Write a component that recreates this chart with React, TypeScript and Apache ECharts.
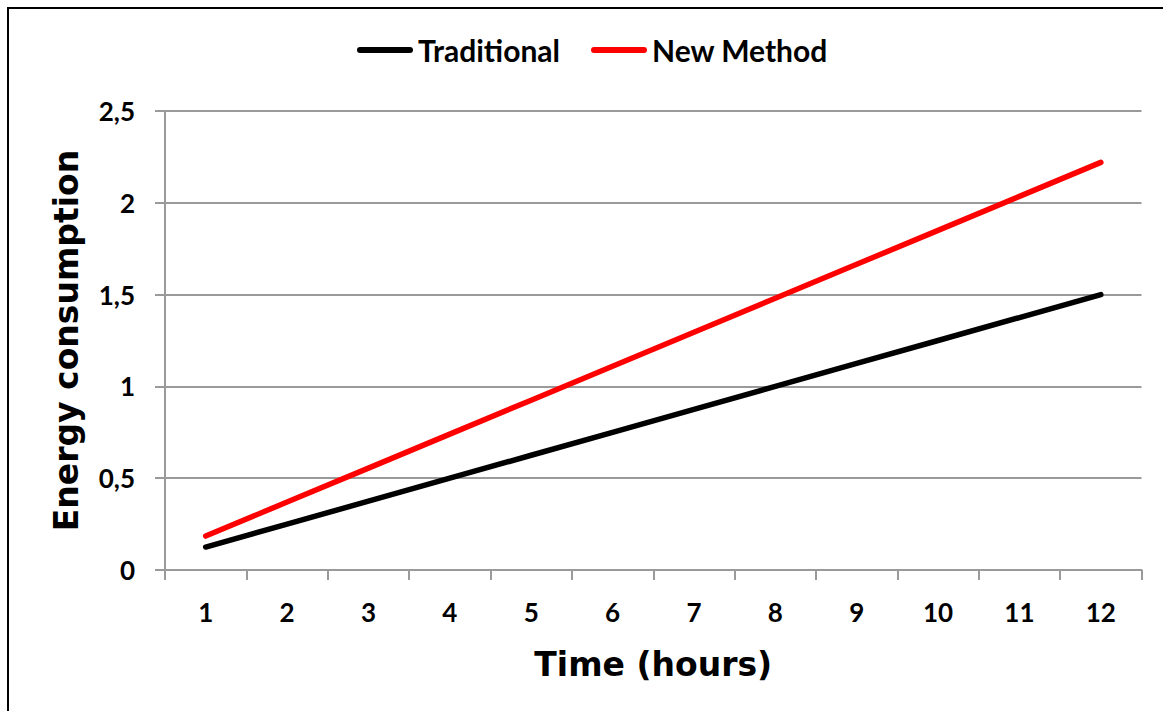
import React, { useEffect, useRef } from "react";
import * as echarts from "echarts";

const hours = ["1", "2", "3", "4", "5", "6", "7", "8", "9", "10", "11", "12"];
const traditional = [0.125, 0.25, 0.375, 0.5, 0.625, 0.75, 0.875, 1.0, 1.125, 1.25, 1.375, 1.5];
const newMethod = [0.185, 0.37, 0.555, 0.74, 0.925, 1.11, 1.295, 1.48, 1.665, 1.85, 2.035, 2.22];
const seriesNames = ["Traditional", "New Method"];
const seriesColors = ["#000000", "#ff0000"];

const pill = "path://M3,0 L53,0 A3,3 0 0 1 53,6 L3,6 A3,3 0 0 1 3,0 Z";

export default function App() {
  const ref = useRef<HTMLDivElement>(null);
  useEffect(() => {
    if (!ref.current) return;
    const chart = echarts.init(ref.current, null, { renderer: "svg" });
    const gridColor = "#9a9a9a";
    chart.setOption({
      animation: false,
      backgroundColor: "#ffffff",
      graphic: [
        {
          type: "rect",
          shape: { x: 8, y: 8, width: 1300, height: 900 },
          style: { fill: "none", stroke: "#000", lineWidth: 2 },
          silent: true,
        },
      ],
      legend: {
        left: 357,
        top: 35,
        padding: 0,
        itemWidth: 56,
        itemHeight: 6,
        itemGap: 31,
        icon: pill,
        textStyle: { fontFamily: "Lato", fontWeight: "bold", fontSize: 30, color: "#000" },
        data: seriesNames,
      },
      grid: { left: 165, top: 111, right: 21.5, bottom: 141, containLabel: false },
      xAxis: {
        type: "category",
        data: hours,
        boundaryGap: true,
        name: "Time (hours)",
        nameLocation: "middle",
        nameGap: 78,
        nameTextStyle: { fontFamily: "DejaVu Sans", fontWeight: "bold", fontSize: 33, color: "#000" },
        axisLine: { lineStyle: { color: gridColor, width: 2 } },
        axisTick: { show: true, length: 10, alignWithLabel: false, lineStyle: { color: gridColor, width: 2 } },
        axisLabel: { margin: 29, fontFamily: "Lato", fontWeight: "bold", fontSize: 26, color: "#000" },
        splitLine: { show: false },
      },
      yAxis: {
        type: "value",
        min: 0,
        max: 2.5,
        interval: 0.5,
        name: "Energy consumption",
        nameLocation: "middle",
        nameGap: 82,
        nameTextStyle: { fontFamily: "DejaVu Sans", fontWeight: "bold", fontSize: 33, color: "#000" },
        axisLine: { show: true, lineStyle: { color: gridColor, width: 2 } },
        axisTick: { show: true, length: 10, lineStyle: { color: gridColor, width: 2 } },
        axisLabel: {
          margin: 30,
          fontFamily: "Lato",
          fontWeight: "bold",
          fontSize: 26,
          color: "#000",
          formatter: (v: number) => String(v).replace(".", ","),
        },
        splitLine: { show: true, lineStyle: { color: gridColor, width: 2 } },
      },
      series: [
        {
          name: seriesNames[0],
          type: "line",
          data: traditional,
          symbol: "none",
          color: seriesColors[0],
          lineStyle: { color: seriesColors[0], width: 5.5, cap: "round" },
        },
        {
          name: seriesNames[1],
          type: "line",
          data: newMethod,
          symbol: "none",
          color: seriesColors[1],
          lineStyle: { color: seriesColors[1], width: 5.5, cap: "round" },
        },
      ],
    });
    return () => chart.dispose();
  }, []);
  return (
    <div
      ref={ref}
      style={{ position: "fixed", left: 0, top: 0, width: 1163, height: 711, background: "#fff" }}
    />
  );
}
